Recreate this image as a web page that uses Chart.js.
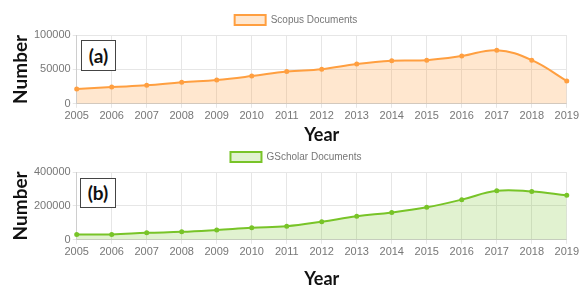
<!DOCTYPE html>
<html lang="en">
	<head>
		<meta charset="UTF-8" />
		<title>Documents per year</title>
		<script src="https://cdn.jsdelivr.net/npm/chart.js"></script>
		<style>
			html,
			body {
				margin: 0;
				padding: 0;
				background: #fff;
			}
			.wrap {
				position: absolute;
				left: 0;
				width: 581px;
			}
			.tag {
				position: absolute;
				border: 1px solid #444;
				font: bold 19px Lato, "DejaVu Sans", sans-serif;
				color: #111;
				text-align: center;
				box-sizing: border-box;
				background: #fff;
			}
		</style>
	</head>
	<body>
		<div class="wrap" style="top: 0; height: 144px">
			<canvas id="chartA"></canvas>
			<div class="tag" style="left: 81px; top: 40px; width: 35px; height: 31px; line-height: 29px">(a)</div>
		</div>
		<div class="wrap" style="top: 142px; height: 146px">
			<canvas id="chartB"></canvas>
			<div class="tag" style="left: 80px; top: 36px; width: 36px; height: 30px; line-height: 28px">(b)</div>
		</div>

		<script>
			var years = ["2005", "2006", "2007", "2008", "2009", "2010", "2011", "2012", "2013", "2014", "2015", "2016", "2017", "2018", "2019"];
			var scopusDocs = [21500, 24400, 26800, 31400, 34700, 40300, 46900, 50200, 57700, 62400, 63400, 69400, 77900, 63400, 33200];
			var gscholarDocs = [31500, 31500, 41000, 47000, 58000, 71000, 80000, 107000, 139000, 161000, 192000, 237000, 289000, 285000, 263000];

			var tickFont = { family: "'Liberation Sans', Arial, sans-serif", size: 11 };
			var yearFont = { family: "Lato, 'DejaVu Sans', sans-serif", size: 18, weight: "bold", lineHeight: 1 };
			var numberFont = { family: "Lato, 'DejaVu Sans', sans-serif", size: 19, weight: "bold", lineHeight: 1 };

			function makeChart(id, w, h, label, data, color, fill, step, max, pad) {
				var cv = document.getElementById(id);
				cv.width = w;
				cv.height = h;
				return new Chart(cv.getContext("2d"), {
					type: "line",
					data: {
						labels: years,
						datasets: [
							{
								label: label,
								data: data,
								borderColor: color,
								backgroundColor: fill,
								fill: true,
								tension: 0.4,
								borderWidth: 2,
								pointRadius: 1.5,
								pointBackgroundColor: color,
								pointBorderColor: color,
							},
						],
					},
					options: {
						responsive: false,
						animation: false,
						layout: { padding: { top: pad.top, left: 11, right: 0, bottom: 0 } },
						plugins: {
							legend: {
								labels: {
									boxWidth: 31,
									boxHeight: 10,
									color: "#777",
									font: { family: "'Liberation Sans', Arial, sans-serif", size: 10 },
								},
							},
							tooltip: { enabled: false },
						},
						scales: {
							x: {
								grid: { color: "#e6e6e6", tickLength: 4 },
								ticks: { color: "#777", font: tickFont, maxRotation: 0, padding: 2 },
								title: {
									display: true,
									text: "Year",
									color: "#111",
									font: yearFont,
									padding: { top: pad.yearTop, bottom: 0 },
								},
							},
							y: {
								min: 0,
								max: max,
								grid: { color: "#e6e6e6", tickLength: 4 },
								ticks: {
									stepSize: step,
									color: "#777",
									font: tickFont,
									padding: 2,
									callback: function (value) {
										return String(value);
									},
								},
								title: {
									display: true,
									text: "Number",
									color: "#111",
									font: numberFont,
									padding: { top: 0, bottom: 2 },
								},
							},
						},
					},
				});
			}

			makeChart("chartA", 581, 144, "Scopus Documents", scopusDocs, "rgb(255,159,64)", "rgba(255,159,64,0.25)", 50000, 100000, { top: 5, yearTop: 1 });
			makeChart("chartB", 581, 146, "GScholar Documents", gscholarDocs, "rgb(120,196,40)", "rgba(120,196,40,0.22)", 200000, 400000, { top: 0, yearTop: 9 });
		</script>
	</body>
</html>
